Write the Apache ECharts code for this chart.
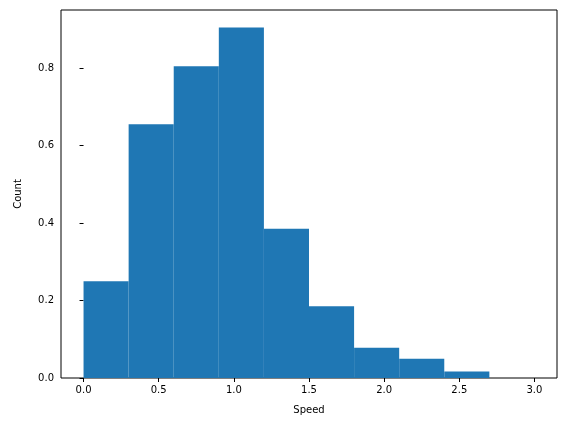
<!DOCTYPE html>
<html>
<head>
<meta charset="utf-8">
<script src="https://cdn.jsdelivr.net/npm/echarts@6/dist/echarts.min.js"></script>
<style>html,body{margin:0;padding:0;background:#fff}#c{width:567px;height:432px}</style>
</head>
<body>
<div id="c"></div>
<script>
// histogram bins
var binEdges = [0, 0.3, 0.6, 0.9, 1.2, 1.5, 1.8, 2.1, 2.4, 2.7, 3.0]
var counts = [0.25, 0.655, 0.805, 0.905, 0.385, 0.185, 0.078, 0.05, 0.017, 0.0]
var xTicks = [0, 0.5, 1.0, 1.5, 2.0, 2.5, 3.0]
var yTicks = [0, 0.2, 0.4, 0.6, 0.8]

var data = counts.map(function (v, i) {
  return [binEdges[i], binEdges[i + 1], v]
})

var chart = echarts.init(document.getElementById('c'))
var font = { fontFamily: 'DejaVu Sans', fontSize: 10, color: '#000' }
chart.setOption({
  animation: false,
  grid: { left: 61, right: 10, top: 10, bottom: 54, show: true, borderColor: '#000', borderWidth: 1 },
  xAxis: {
    type: 'value', min: -0.15, max: 3.15,
    name: 'Speed', nameLocation: 'middle', nameGap: 27,
    nameTextStyle: { fontFamily: 'DejaVu Sans', fontSize: 10, color: '#000' },
    axisLine: { show: false },
    splitLine: { show: false },
    axisTick: { show: true, length: 4, lineStyle: { color: '#000' }, customValues: xTicks },
    axisLabel: Object.assign({ customValues: xTicks, margin: 7, formatter: function (v) { return v.toFixed(1) } }, font)
  },
  yAxis: {
    type: 'value', min: 0, max: 0.95,
    name: 'Count', nameLocation: 'middle', nameGap: 38,
    nameTextStyle: { fontFamily: 'DejaVu Sans', fontSize: 10, color: '#000' },
    axisLine: { show: false },
    splitLine: { show: false },
    axisTick: { show: true, length: 4, lineStyle: { color: '#000' }, customValues: yTicks },
    axisLabel: Object.assign({ customValues: yTicks, margin: 7, formatter: function (v) { return v.toFixed(1) } }, font)
  },
  series: [{
    type: 'custom',
    data: data,
    renderItem: function (params, api) {
      var p0 = api.coord([api.value(0), api.value(2)])
      var p1 = api.coord([api.value(1), 0])
      return {
        type: 'rect',
        shape: { x: p0[0], y: p0[1], width: p1[0] - p0[0], height: p1[1] - p0[1] },
        style: { fill: '#1f77b4' }
      }
    }
  }]
})
</script>
</body>
</html>
